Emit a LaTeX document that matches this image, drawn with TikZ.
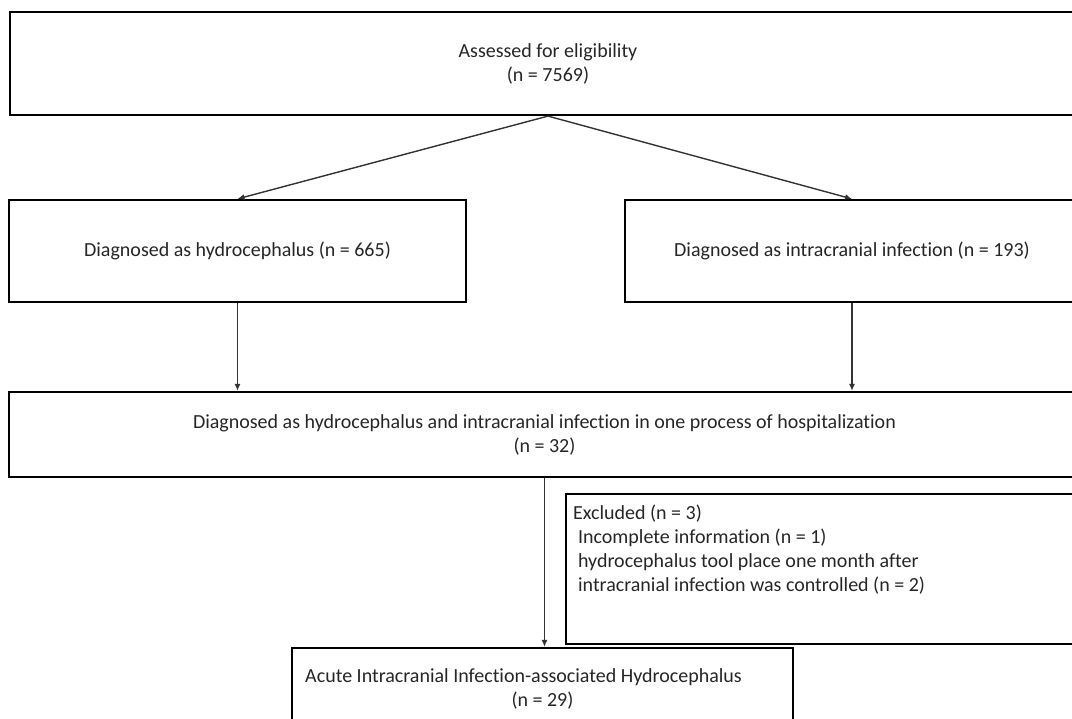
\documentclass[tikz,border=0pt]{standalone}
\usepackage{fontspec}
\setmainfont{Carlito}[Ligatures=NoCommon]
\usetikzlibrary{arrows.meta}

\begin{document}
\begin{tikzpicture}[x=1pt,y=-1pt,font=\fontsize{20}{24}\selectfont,>={Latex[length=7pt,width=6pt]},
  box/.style={draw,line width=2.2pt,inner sep=0pt,align=center,text=black!85},
  link/.style={->,line width=1.4pt,draw=black!80}]
\useasboundingbox (0,0) rectangle (1072,719);
\clip (0,0) rectangle (1072,719);
\node[box,minimum width=1076pt,minimum height=103pt] (elig) at (548,63.5) {Assessed for eligibility\\(n = 7569)};
\node[box,minimum width=457pt,minimum height=102pt] (hydro) at (237.5,251) {Diagnosed as hydrocephalus (n = 665)};
\node[box,minimum width=454pt,minimum height=102pt] (infect) at (852,251) {Diagnosed as intracranial infection (n = 193)};
\node[box,minimum width=1071pt,minimum height=85pt] (both) at (544.5,434.5) {Diagnosed as hydrocephalus and intracranial infection in one process of hospitalization\\(n = 32)};
\node[box,anchor=north west,inner xsep=7pt,inner ysep=11pt] (excl) at (565,493)
  {\parbox[c][128pt][t]{511pt}{\raggedright Excluded (n = 3)\\\hspace*{5pt}Incomplete information (n = 1)\\\hspace*{5pt}hydrocephalus tool place one month after\\\hspace*{5pt}intracranial infection was controlled (n = 2)}};
\node[box,minimum width=501pt,minimum height=82pt] (acute) at (542.5,689) {Acute Intracranial Infection-associated Hydrocephalus\hspace*{38pt}\\(n = 29)};
\draw[link] (elig.south) -- (hydro.north);
\draw[link] (elig.south) -- (infect.north);
\draw[link] (hydro.south) -- (hydro.south |- both.north);
\draw[link] (infect.south) -- (infect.south |- both.north);
\draw[link] (both.south) -- (both.south |- acute.north);
\end{tikzpicture}
\end{document}
